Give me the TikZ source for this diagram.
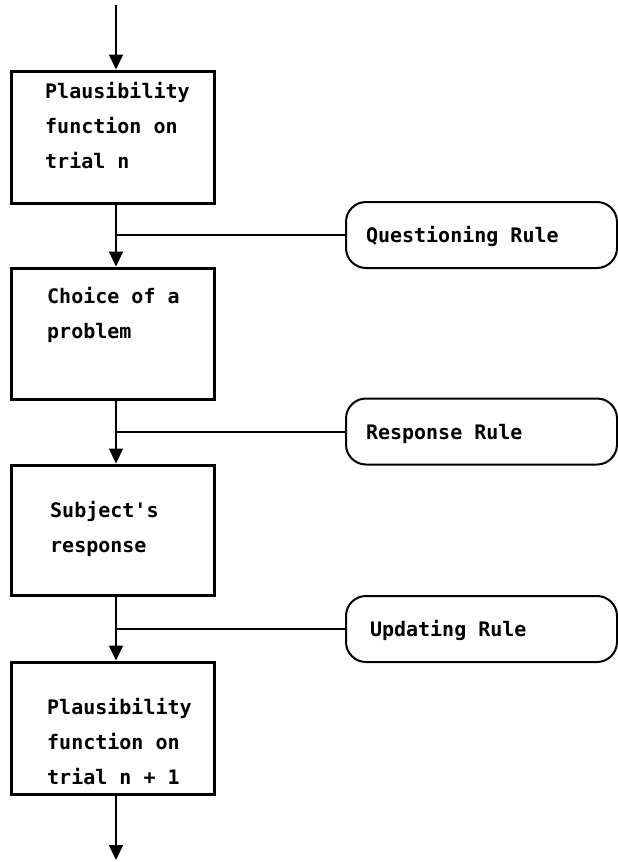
\documentclass[tikz,border=0pt]{standalone}
\usepackage{fontspec}
\newfontfamily\dmono{DejaVu Sans Mono}
\usetikzlibrary{arrows.meta}
\newcommand{\pilltext}[1]{\makebox[231pt][l]{#1}}
\begin{document}
\begin{tikzpicture}[x=1pt,y=-1pt,
  boxnode/.style={draw, line width=3pt, minimum width=203pt, inner sep=0pt},
  pill/.style={draw, line width=2pt, rounded corners=20pt, minimum width=271pt, minimum height=66pt,
    inner xsep=20pt, inner ysep=0pt, text height=15pt, text depth=0pt,
    font=\dmono\bfseries\fontsize{20}{24}\selectfont},
  lbl/.style={font=\dmono\bfseries\fontsize{20}{35}\selectfont, align=left, anchor=north west, inner sep=0pt},
  conn/.style={line width=2pt},
  arr/.style={conn, -{Triangle[width=14pt,length=15pt]}},
]
\useasboundingbox (0,0) rectangle (618,862);
\coordinate (stem) at (116,0);
\coordinate (top) at (116,5);
\coordinate (bot) at (116,860);

\node[boxnode, minimum height=132pt] (box1) at (112.5,137) {};
\node[boxnode, minimum height=131pt] (box2) at (112.5,333.5) {};
\node[boxnode, minimum height=130pt] (box3) at (112.5,530) {};
\node[boxnode, minimum height=132pt] (box4) at (112.5,728) {};

\node[lbl] (t1) at (45,82) {Plausibility\\function on\\trial n};
\node[lbl] (t2) at (47,287) {Choice of a\\problem};
\node[lbl] (t3) at (50,501) {Subject's\\response};
\node[lbl] (t4) at (47,698) {Plausibility\\function on\\trial n + 1};

\node[pill] (p1) at (481.5,235) {\pilltext{Questioning Rule}};
\node[pill] (p2) at (481.5,431.5) {\pilltext{Response Rule}};
\node[pill] (p3) at (481.5,629) {\pilltext{\hspace{4pt}Updating Rule}};

\draw[arr] (top) -- (box1.north -| stem);
\draw[arr] (box1.south -| stem) -- (box2.north -| stem);
\draw[arr] (box2.south -| stem) -- (box3.north -| stem);
\draw[arr] (box3.south -| stem) -- (box4.north -| stem);
\draw[arr] (box4.south -| stem) -- (bot);

\draw[conn] (p1.west) -- (p1.west -| stem);
\draw[conn] (p2.west) -- (p2.west -| stem);
\draw[conn] (p3.west) -- (p3.west -| stem);
\end{tikzpicture}
\end{document}
